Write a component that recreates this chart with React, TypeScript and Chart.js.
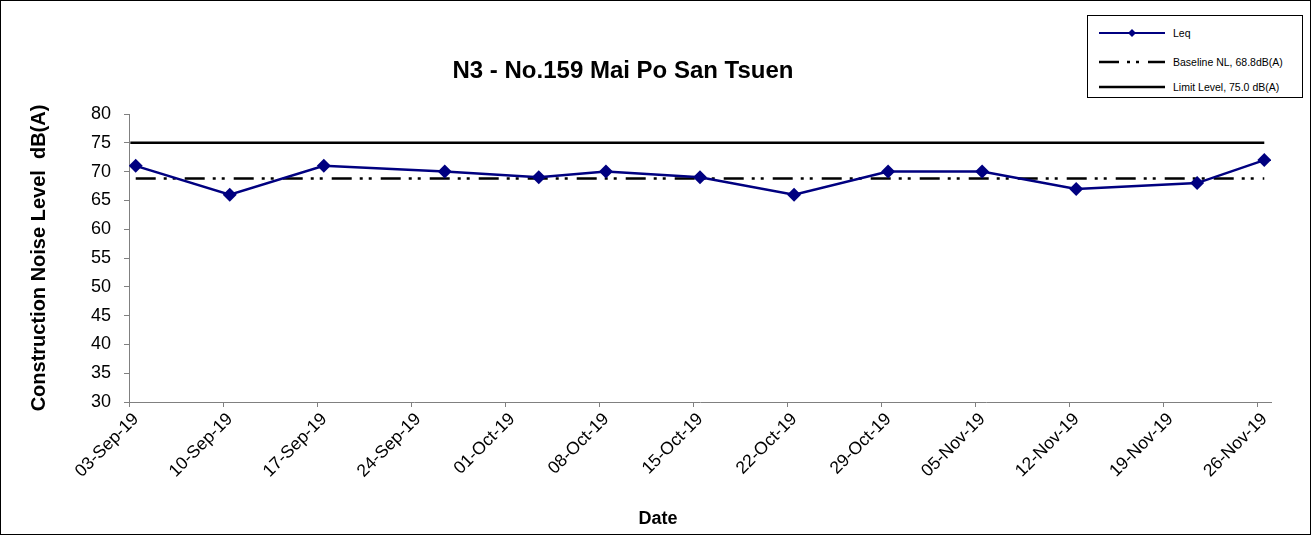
import React, { useEffect, useRef } from 'react';
import { Chart, registerables } from 'chart.js';

Chart.register(...registerables);

const chartTitle = 'N3 - No.159 Mai Po San Tsuen';
const yAxisTitle = 'Construction Noise Level  dB(A)';
const xAxisTitle = 'Date';

const leqDates = [
  '03-Sep-19', '10-Sep-19', '17-Sep-19', '26-Sep-19', '03-Oct-19', '08-Oct-19', '15-Oct-19',
  '22-Oct-19', '29-Oct-19', '05-Nov-19', '12-Nov-19', '21-Nov-19', '26-Nov-19',
];
const leqValues = [71, 66, 71, 70, 69, 70, 69, 66, 70, 70, 67, 68, 72];

const tickDates = [
  '03-Sep-19', '10-Sep-19', '17-Sep-19', '24-Sep-19', '01-Oct-19', '08-Oct-19', '15-Oct-19',
  '22-Oct-19', '29-Oct-19', '05-Nov-19', '12-Nov-19', '19-Nov-19', '26-Nov-19',
];

const baselineLevel = 68.8;
const limitLevel = 75.0;
const legendLabels = ['Leq', 'Baseline NL, 68.8dB(A)', 'Limit Level, 75.0 dB(A)'];

const yMin = 30;
const yMax = 80;
const yStep = 5;

const FONT = '"Liberation Sans", Arial, Helvetica, sans-serif';
const NAVY = '#000080';
const DASH_DOT_DOT = [20, 8, 3, 6, 3, 9];

const MONTHS: Record<string, number> = {
  Jan: 0, Feb: 1, Mar: 2, Apr: 3, May: 4, Jun: 5, Jul: 6, Aug: 7, Sep: 8, Oct: 9, Nov: 10, Dec: 11,
};
function dayNumber(s: string): number {
  const [d, m, y] = s.split('-');
  return Date.UTC(2000 + Number(y), MONTHS[m], Number(d)) / 86400000;
}
const originDay = dayNumber(tickDates[0]);
const dayOf = (s: string) => dayNumber(s) - originDay;
// Excel-style date axis: each day's point sits in the middle of its day slot
const slotCenter = (s: string) => dayOf(s) + 0.5;

export default function App() {
  const canvasRef = useRef<HTMLCanvasElement | null>(null);

  useEffect(() => {
    document.body.style.margin = '0';
    const canvas = canvasRef.current;
    if (!canvas) return;

    const leqData = leqDates.map((d, i) => ({ x: slotCenter(d), y: leqValues[i] }));
    const firstX = slotCenter(leqDates[0]);
    const lastX = slotCenter(leqDates[leqDates.length - 1]);
    const xMax = dayOf(tickDates[tickDates.length - 1]) + 1;

    const chart = new Chart(canvas, {
      type: 'line',
      data: {
        datasets: [
          {
            label: legendLabels[0],
            data: leqData,
            borderColor: NAVY,
            backgroundColor: NAVY,
            borderWidth: 2.5,
            pointStyle: 'rectRot',
            pointRadius: 7,
            pointBorderWidth: 0,
            pointBackgroundColor: NAVY,
            tension: 0,
          },
          {
            label: legendLabels[1],
            data: [{ x: firstX, y: baselineLevel }, { x: lastX, y: baselineLevel }],
            borderColor: '#000000',
            borderWidth: 2.5,
            borderDash: DASH_DOT_DOT,
            pointRadius: 0,
          },
          {
            label: legendLabels[2],
            data: [{ x: firstX - 0.4, y: limitLevel }, { x: lastX, y: limitLevel }],
            borderColor: '#000000',
            borderWidth: 2.5,
            pointRadius: 0,
          },
        ],
      },
      options: {
        animation: false,
        responsive: true,
        maintainAspectRatio: false,
        layout: { padding: { top: 114, right: 40, left: 0, bottom: 0 } },
        plugins: {
          legend: { display: false },
          tooltip: { enabled: false },
          title: { display: false },
        },
        scales: {
          x: {
            type: 'linear',
            min: 0,
            max: xMax,
            afterBuildTicks: (scale: any) => {
              scale.ticks = tickDates.map((d) => ({ value: dayOf(d) }));
            },
            afterFit: (scale: any) => {
              scale.height = 133;
            },
            ticks: {
              autoSkip: false,
              maxRotation: 45,
              minRotation: 45,
              padding: 2,
              labelOffset: 7,
              color: '#000',
              font: { family: FONT, size: 17.5 },
              callback: (value: any) => {
                const found = tickDates.find((d) => dayOf(d) === value);
                return found ?? '';
              },
            },
            grid: {
              display: true,
              drawOnChartArea: false,
              drawTicks: true,
              tickLength: 5,
              color: '#808080',
            },
            border: { display: true, color: '#808080', width: 1 },
            title: { display: false, text: xAxisTitle },
          },
          y: {
            type: 'linear',
            min: yMin,
            max: yMax,
            afterFit: (scale: any) => {
              scale.width = 129;
            },
            ticks: {
              stepSize: yStep,
              padding: 13,
              color: '#000',
              font: { family: FONT, size: 18 },
            },
            grid: {
              display: true,
              drawOnChartArea: false,
              drawTicks: true,
              tickLength: 5,
              color: '#808080',
            },
            border: { display: true, color: '#808080', width: 1 },
            title: {
              display: true,
              text: yAxisTitle,
              color: '#000',
              font: { family: FONT, size: 20, weight: 'bold' },
              padding: { top: 27, bottom: 0 },
            },
          },
        },
      },
    });
    return () => chart.destroy();
  }, []);

  const legendRow = (top: number, sample: React.ReactNode, text: string) => (
    <div style={{ position: 'absolute', left: 0, top: top, width: '100%', height: 0 }}>
      <svg width={68} height={12} style={{ position: 'absolute', left: 11, top: -6 }}>
        {sample}
      </svg>
      <span
        style={{
          position: 'absolute',
          left: 85,
          top: -7,
          fontFamily: FONT,
          fontSize: 10.5,
          lineHeight: '14px',
          whiteSpace: 'nowrap',
          color: '#000',
        }}
      >
        {text}
      </span>
    </div>
  );

  return (
    <div
      style={{
        position: 'fixed',
        left: 0,
        top: 0,
        width: 1311,
        height: 535,
        background: '#fff',
        overflow: 'hidden',
      }}
    >
      <div style={{ position: 'absolute', inset: 0 }}>
        <canvas ref={canvasRef} />
      </div>
      <div
        style={{
          position: 'absolute',
          left: 623,
          top: 70,
          transform: 'translate(-50%, -50%)',
          fontFamily: FONT,
          fontWeight: 'bold',
          fontSize: 24,
          whiteSpace: 'nowrap',
          color: '#000',
        }}
      >
        {chartTitle}
      </div>
      <div
        style={{
          position: 'absolute',
          left: 658,
          top: 518,
          transform: 'translate(-50%, -50%)',
          fontFamily: FONT,
          fontWeight: 'bold',
          fontSize: 18,
          whiteSpace: 'nowrap',
          color: '#000',
        }}
      >
        {xAxisTitle}
      </div>
      <div
        style={{
          position: 'absolute',
          left: 1087,
          top: 15,
          width: 216,
          height: 83,
          boxSizing: 'border-box',
          border: '1px solid #000',
          background: '#fff',
        }}
      >
        {legendRow(
          17,
          <>
            <line x1={0} y1={6} x2={66} y2={6} stroke={NAVY} strokeWidth={2} />
            <polygon points="33,2 37,6 33,10 29,6" fill={NAVY} />
          </>,
          legendLabels[0]
        )}
        {legendRow(
          46,
          <line x1={0} y1={6} x2={66} y2={6} stroke="#000" strokeWidth={2.5} strokeDasharray="20 8 3 6 3 9" />,
          legendLabels[1]
        )}
        {legendRow(
          71,
          <line x1={0} y1={6} x2={66} y2={6} stroke="#000" strokeWidth={2.5} />,
          legendLabels[2]
        )}
      </div>
      <div
        style={{
          position: 'absolute',
          inset: 0,
          boxSizing: 'border-box',
          border: '1px solid #000',
          pointerEvents: 'none',
        }}
      />
    </div>
  );
}
